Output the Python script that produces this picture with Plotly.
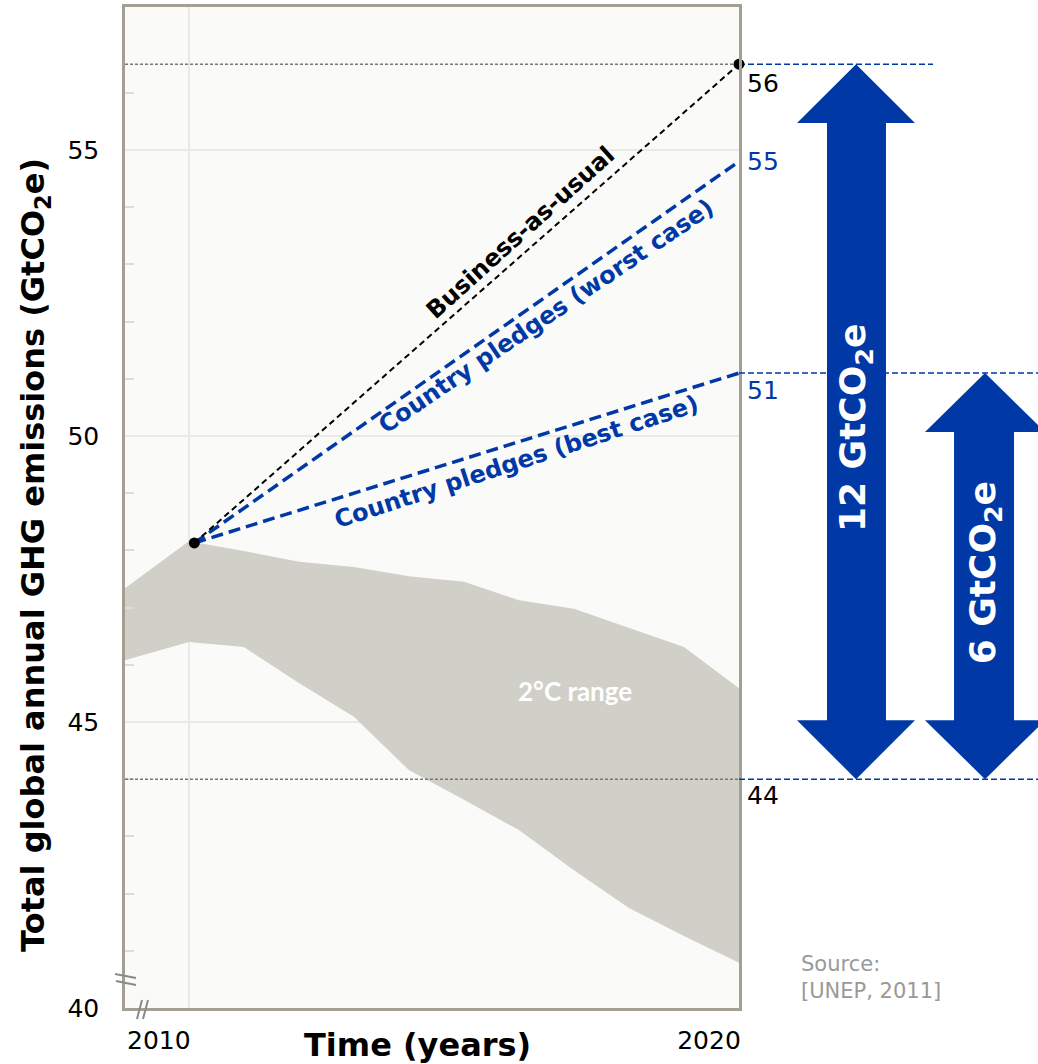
import plotly.graph_objects as go

# ---------------- data ----------------
band_years = [2008.84, 2010, 2011, 2012, 2013, 2014, 2015, 2016, 2017, 2018, 2019, 2020]
band_upper = [47.34, 48.16, 47.99, 47.80, 47.71, 47.55, 47.45, 47.13, 46.98, 46.64, 46.31, 45.59]
band_lower = [46.08, 46.40, 46.31, 45.68, 45.09, 44.16, 43.64, 43.11, 42.41, 41.75, 41.26, 40.79]

scen_years = [2010.1, 2020]
bau_vals = [48.13, 56.5]
worst_vals = [48.13, 54.8]
best_vals = [48.13, 51.1]
target_level = 44.0

x_tick_vals = [2010, 2020]
x_tick_text = ["2010", "2020"]
y_tick_vals = [40, 45, 50, 55]
y_minor_vals = [41, 42, 43, 44, 46, 47, 48, 49, 51, 52, 53, 54, 56]

end_labels = ["56", "55", "51", "44"]
gap_labels = ["12 GtCO<sub>2</sub>e", "6 GtCO<sub>2</sub>e"]

BLUE = "#0039A6"
FONT = "DejaVu Sans"

fig = go.Figure()

# 2°C range band
fig.add_trace(go.Scatter(x=band_years, y=band_lower, mode="lines",
                         line=dict(width=0, color="rgba(0,0,0,0)"),
                         showlegend=False, hoverinfo="skip"))
fig.add_trace(go.Scatter(x=band_years, y=band_upper, mode="lines",
                         line=dict(width=0, color="rgba(0,0,0,0)"),
                         fill="tonexty", fillcolor="rgba(204,204,196,0.92)",
                         showlegend=False, hoverinfo="skip"))

# scenario lines
fig.add_trace(go.Scatter(x=scen_years, y=best_vals, mode="lines",
                         line=dict(color=BLUE, width=3.5, dash="12px,6px"),
                         showlegend=False))
fig.add_trace(go.Scatter(x=scen_years, y=worst_vals, mode="lines",
                         line=dict(color=BLUE, width=3.5, dash="12px,6px"),
                         showlegend=False))
fig.add_trace(go.Scatter(x=scen_years, y=bau_vals, mode="lines+markers",
                         line=dict(color="black", width=2, dash="6px,4px"),
                         marker=dict(color="black", size=11, line=dict(width=0)),
                         cliponaxis=False, showlegend=False))

shapes = []
# reference dotted lines within plot
shapes.append(dict(type="line", xref="paper", yref="y", x0=0, x1=1,
                   y0=bau_vals[-1], y1=bau_vals[-1],
                   line=dict(color="#777777", width=1.5, dash="3px,2px"), layer="below"))
shapes.append(dict(type="line", xref="paper", yref="y", x0=0, x1=1,
                   y0=target_level, y1=target_level,
                   line=dict(color="#777777", width=1.5, dash="3px,2px"), layer="above"))
# blue dashed extensions to the right
shapes.append(dict(type="line", xref="paper", yref="y", x0=1.0, x1=1.316,
                   y0=bau_vals[-1], y1=bau_vals[-1],
                   line=dict(color=BLUE, width=1.5, dash="6px,3px"), layer="below"))
for yv in [best_vals[-1], target_level]:
    shapes.append(dict(type="line", xref="paper", yref="y", x0=1.0, x1=1.55,
                       y0=yv, y1=yv, line=dict(color=BLUE, width=1.5, dash="6px,3px")))


def double_arrow(xl, xsl, xc, xsr, xr, ytop, ybot, head):
    p = (f"M {xc} {ytop} L {xr} {ytop-head} L {xsr} {ytop-head} L {xsr} {ybot+head} "
         f"L {xr} {ybot+head} L {xc} {ybot} L {xl} {ybot+head} L {xsl} {ybot+head} "
         f"L {xsl} {ytop-head} L {xl} {ytop-head} Z")
    return dict(type="path", xref="paper", yref="y", path=p,
                fillcolor=BLUE, line=dict(width=0), layer="above")


shapes.append(double_arrow(1.0945, 1.1433, 1.1906, 1.2394, 1.2866,
                           bau_vals[-1], target_level, 1.03))
shapes.append(double_arrow(1.3029, 1.3502, 1.4007, 1.4479, 1.4984,
                           best_vals[-1], target_level, 1.03))

# axis break marks
brk = dict(color="#8a8a8a", width=2)
shapes.append(dict(type="line", xref="paper", yref="paper", x0=-0.0163, x1=0.0179,
                   y0=0.0340, y1=0.0300, line=brk))
shapes.append(dict(type="line", xref="paper", yref="paper", x0=-0.0147, x1=0.0179,
                   y0=0.0270, y1=0.0230, line=brk))
shapes.append(dict(type="line", xref="paper", yref="paper", x0=0.0195, x1=0.0277,
                   y0=-0.0110, y1=0.0080, line=brk))
shapes.append(dict(type="line", xref="paper", yref="paper", x0=0.0293, x1=0.0375,
                   y0=-0.0110, y1=0.0080, line=brk))

annotations = []
# line labels
annotations.append(dict(x=2016.02, y=53.55, xref="x", yref="y", showarrow=False,
                        xanchor="center", yanchor="middle",
                        text="<b>Business-as-usual</b>", textangle=-42,
                        font=dict(family=FONT, size=24, color="black")))
annotations.append(dict(x=2016.5, y=52.1, xref="x", yref="y", showarrow=False,
                        xanchor="center", yanchor="middle",
                        text="<b>Country pledges (worst case)</b>", textangle=-34,
                        font=dict(family=FONT, size=24, color=BLUE)))
annotations.append(dict(x=2015.95, y=49.55, xref="x", yref="y", showarrow=False,
                        xanchor="center", yanchor="middle",
                        text="<b>Country pledges (best case)</b>", textangle=-18,
                        font=dict(family=FONT, size=24, color=BLUE)))
annotations.append(dict(x=2017.02, y=45.54, xref="x", yref="y", showarrow=False,
                        xanchor="center", yanchor="middle",
                        text="2°C range",
                        font=dict(family="Lato", size=26, color="white", weight="bold")))

# end value labels
end_pos = [(bau_vals[-1], "top", -3, "black"), (worst_vals[-1], "middle", 0, BLUE),
           (best_vals[-1], "top", -1, BLUE), (target_level, "top", 0, "black")]
for lab, (yv, ya, ys, col) in zip(end_labels, end_pos):
    annotations.append(dict(x=1.01, y=yv, xref="paper", yref="y", xanchor="left",
                            yanchor=ya, yshift=ys, showarrow=False, text=lab,
                            font=dict(family=FONT, size=25, color=col)))

# arrow labels
annotations.append(dict(x=1.1906, y=50.14, xref="paper", yref="y", showarrow=False,
                        xanchor="center", yanchor="middle",
                        text="<b>" + gap_labels[0] + "</b>", textangle=-90,
                        font=dict(family=FONT, size=36, color="white")))
annotations.append(dict(x=1.4007, y=47.6, xref="paper", yref="y", showarrow=False,
                        xanchor="center", yanchor="middle",
                        text="<b>" + gap_labels[1] + "</b>", textangle=-90,
                        font=dict(family=FONT, size=36, color="white")))

# source
annotations.append(dict(x=1.097, y=0.058, xref="paper", yref="paper", xanchor="left",
                        yanchor="top", align="left", showarrow=False,
                        text="Source:<br>[UNEP, 2011]",
                        font=dict(family=FONT, size=21, color="#999999")))

# axis titles
annotations.append(dict(x=0.477, y=-0.037, xref="paper", yref="paper", showarrow=False,
                        xanchor="center", yanchor="middle", text="<b>Time (years)</b>",
                        font=dict(family=FONT, size=32, color="black")))
annotations.append(dict(x=-0.1466, y=0.4526, xref="paper", yref="paper", showarrow=False,
                        xanchor="center", yanchor="middle", textangle=-90,
                        text="<b>Total global annual GHG emissions (GtCO<sub>2</sub>e)</b>",
                        font=dict(family=FONT, size=32, color="black")))

fig.update_layout(
    template="none",
    width=1038, height=1064,
    margin=dict(l=125, r=299, t=7, b=56, autoexpand=False),
    paper_bgcolor="white",
    plot_bgcolor="#fafaf8",
    showlegend=False,
    shapes=shapes,
    annotations=annotations,
    font=dict(family=FONT),
)
fig.update_xaxes(range=[2008.84, 2020], tickvals=x_tick_vals, ticktext=x_tick_text,
                 showgrid=True, gridcolor="#e9e9e6", gridwidth=1.5, zeroline=False,
                 showline=True, linecolor="#a39f93", linewidth=2.5, mirror=True,
                 ticks="", ticklabelshift=-30, ticklabelstandoff=8,
                 tickfont=dict(family=FONT, size=25, color="black"), automargin=False)
fig.update_yaxes(range=[40, 57.5], tickvals=y_tick_vals,
                 showgrid=True, gridcolor="#e9e9e6", gridwidth=1.5, zeroline=False,
                 showline=True, linecolor="#a39f93", linewidth=2.5, mirror=True,
                 ticks="", ticklabelstandoff=18,
                 minor=dict(tickvals=y_minor_vals, ticks="inside", ticklen=9,
                            tickcolor="#dcdcdc", tickwidth=1.5, showgrid=False),
                 tickfont=dict(family=FONT, size=25, color="black"), automargin=False)

fig.write_html("out.html", config={"displayModeBar": False},
               post_script="document.body.style.margin='0';document.body.style.overflow='hidden';")
